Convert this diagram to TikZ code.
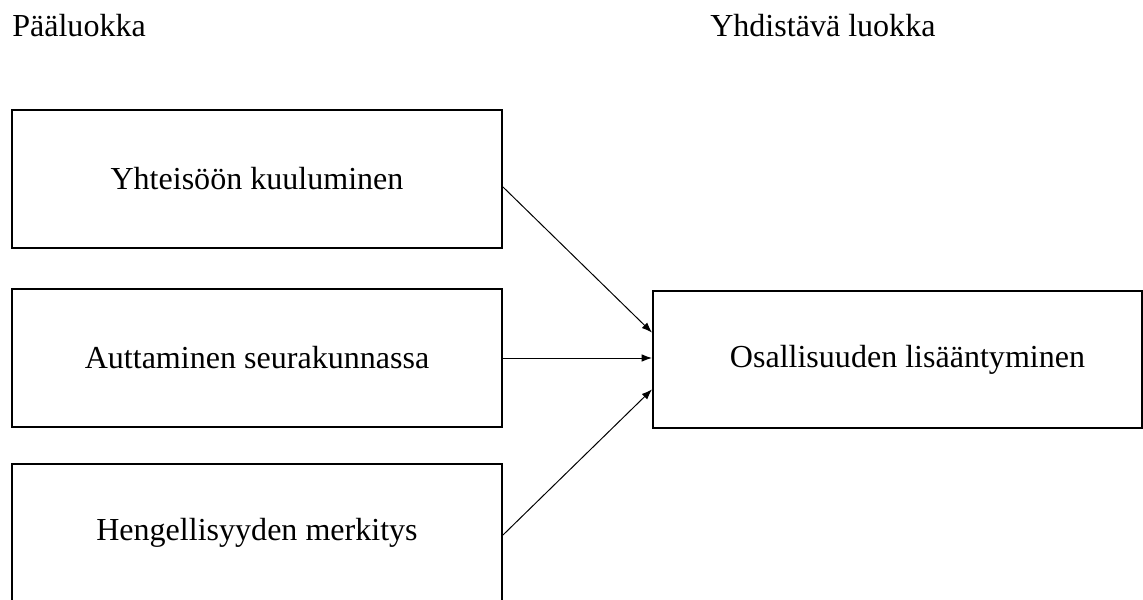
\documentclass[tikz,border=0pt]{standalone}
\usepackage{fontspec}
\setmainfont{Liberation Serif}
\usepackage{tikz}
\usetikzlibrary{arrows.meta,positioning}
\tikzset{
  luokka-box/.style={draw=black, line width=1.4pt, minimum width=12.25cm, minimum height=3.45cm,
    inner sep=0pt, align=center, font=\fontsize{22.8}{27}\selectfont},
  luokka-title/.style={anchor=base west, inner sep=0pt, font=\fontsize{22.8}{27}\selectfont},
  luokka-arrow/.style={-{Latex[length=2.6mm,width=1.9mm]}, line width=0.7pt}
}

\begin{document}
\begin{tikzpicture}[>=Latex, x=1cm, y=1cm]
  \useasboundingbox (0,0) rectangle (28.575,14.975);
  \node[luokka-title] (paa) at (0.3,14.05) {Pääluokka};
  \node[luokka-title] (yhd) at (17.75,14.05) {Yhdistävä luokka};
  \foreach \name/\y/\title in {yk/10.5/Yhteisöön kuuluminen, as/6.025/Auttaminen seurakunnassa, hm/1.65/Hengellisyyden merkitys} {
    \node[luokka-box] (\name) at (6.425,\y) {\raisebox{-0.1cm}{\title}};
  }
  \node[luokka-box, minimum width=12.225cm, minimum height=3.425cm] (osal) at (22.4375,5.99) {\hspace{0.5cm}\raisebox{-0.1cm}{Osallisuuden lisääntyminen}};
  \draw[luokka-arrow] ([yshift=-0.2cm]yk.east) -- ([yshift=0.67cm]osal.west);
  \draw[luokka-arrow] (as.east) -- (as.east -| osal.west);
  \draw[luokka-arrow] ([yshift=-0.05cm]hm.east) -- ([yshift=-0.75cm]osal.west);
\end{tikzpicture}
\end{document}
